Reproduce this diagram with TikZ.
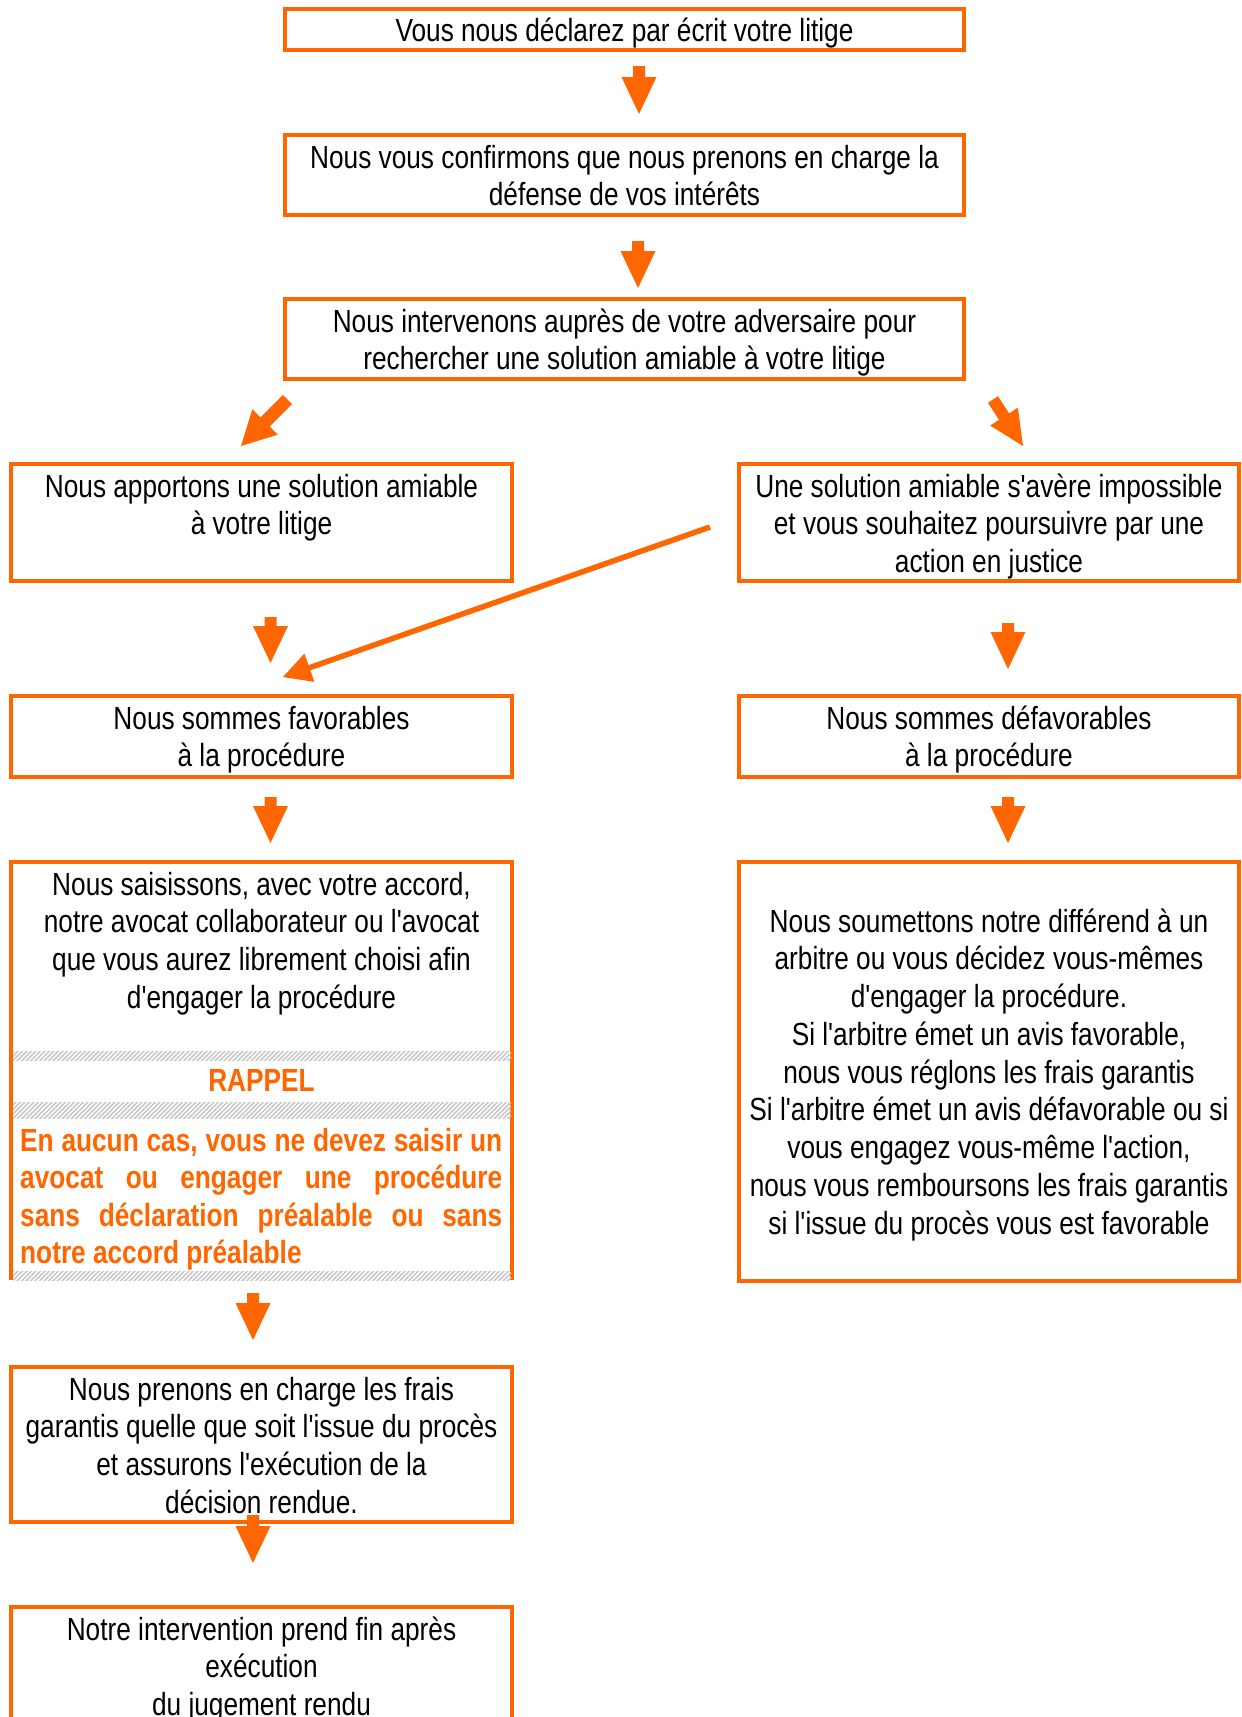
\documentclass[tikz,border=0pt]{standalone}
\usepackage{fontspec}
\newfontfamily\arn{Liberation Sans}[FakeStretch=0.82]
\usetikzlibrary{calc}
\definecolor{orangeC}{HTML}{FF6600}
\tikzset{
  box/.style={draw=orangeC, line width=3.5pt, inner sep=0pt, outer sep=0pt, rectangle},
  openbox/.style={inner sep=0pt, outer sep=0pt, rectangle},
  sides/.style={draw=orangeC, line width=3.5pt, line join=miter},
  txt/.style={inner sep=0pt, align=center, font=\arn\fontsize{32}{37.75}\selectfont, anchor=north},
  warn/.style={inner sep=0pt, align=left, text=orangeC, font=\arn\bfseries\fontsize{32}{37.5}\selectfont, anchor=north west},
  rappel/.style={inner sep=0pt, align=center, text=orangeC, font=\arn\bfseries\fontsize{32}{37.5}\selectfont, anchor=north},
  hatchline/.style={draw=gray!42, line width=1.5pt},
  arrowfill/.style={fill=orangeC},
}
\newcommand\st{\rule{0pt}{30pt}}
% #1 start, #2 tip, #3 shaft half width, #4 head half width, #5 head length
\newcommand\blockarrow[5]{%
  \coordinate (bahead) at ($(#2)!#5!(#1)$);
  \fill[arrowfill] ($(#1)!#3!90:(#2)$) -- ($(bahead)!#3!90:(#2)$) -- ($(bahead)!#4!90:(#2)$) -- (#2)
    -- ($(bahead)!#4!-90:(#2)$) -- ($(bahead)!#3!-90:(#2)$) -- ($(#1)!#3!-90:(#2)$) -- cycle;}
\newcommand\hatchstrip[2]{%
  \begin{scope}
    \clip (13,#1) rectangle (511,#2);
    \foreach \x in {0,4.5,...,540} \draw[hatchline] ({\x-30},{#2+30}) -- ({\x+30},{#2-30});
  \end{scope}}
\begin{document}
\begin{tikzpicture}[x=1pt,y=-1pt]
\useasboundingbox (0,0) rectangle (1242,1717);
\fill[white] (0,0) rectangle (1242,1717);

% boxes
\node[box, minimum width=679, minimum height=41] (b1) at (624.5,29.5) {};
\node[box, minimum width=679, minimum height=80] (b2) at (624.5,175) {};
\node[box, minimum width=679, minimum height=80] (b3) at (624.5,339) {};
\node[box, minimum width=501, minimum height=117] (b4l) at (261.5,522.5) {};
\node[box, minimum width=500, minimum height=117] (b4r) at (989,522.5) {};
\node[box, minimum width=501, minimum height=81] (b5l) at (261.5,736.5) {};
\node[box, minimum width=500, minimum height=81] (b5r) at (989,736.5) {};
\node[openbox, minimum width=501, minimum height=418] (b6l) at (261.5,1071) {};
\draw[sides] (b6l.south west) -- (b6l.north west) -- (b6l.north east) -- (b6l.south east);
\node[box, minimum width=500, minimum height=419] (b6r) at (989,1071.5) {};
\node[box, minimum width=501, minimum height=155] (b7) at (261.5,1444.5) {};
\node[openbox, minimum width=501, minimum height=113] (b8) at (261.5,1663.5) {};
\draw[sides] (b8.south west) -- (b8.north west) -- (b8.north east) -- (b8.south east);

% hatched strips of the reminder
\hatchstrip{1051}{1060}
\hatchstrip{1102}{1118}
\hatchstrip{1271}{1280}

% texts
\node[txt] (t1) at (624.5,11.5) {\st Vous nous déclarez par écrit votre litige};
\node[txt] (t2) at (624.5,138) {\st Nous vous confirmons que nous prenons en charge la\\défense de vos intérêts};
\node[txt] (t3) at (624.5,302) {\st Nous intervenons auprès de votre adversaire pour\\rechercher une solution amiable à votre litige};
\node[txt] (t4l) at (261.5,467) {\st Nous apportons une solution amiable\\à votre litige};
\node[txt] (t4r) at (989,467) {\st Une solution amiable s'avère impossible\\et vous souhaitez poursuivre par une\\action en justice};
\node[txt] (t5l) at (261.5,699) {\st Nous sommes favorables\\à la procédure};
\node[txt] (t5r) at (989,699) {\st Nous sommes défavorables\\à la procédure};
\node[txt] (t6l) at (261.5,865) {\st Nous saisissons, avec votre accord,\\notre avocat collaborateur ou l'avocat\\que vous aurez librement choisi afin\\d'engager la procédure};
\node[rappel] (rap) at (261.5,1061) {\st RAPPEL};
\node[warn] (wrn) at (20,1121) {\st\makebox[482pt][s]{En aucun cas, vous ne devez saisir un}\\\makebox[482pt][s]{avocat ou engager une procédure}\\\makebox[482pt][s]{sans déclaration préalable ou sans}\\notre accord préalable};
\node[txt] (t6r) at (989,902) {\st Nous soumettons notre différend à un\\arbitre ou vous décidez vous-mêmes\\d'engager la procédure.\\Si l'arbitre émet un avis favorable,\\nous vous réglons les frais garantis\\Si l'arbitre émet un avis défavorable ou si\\vous engagez vous-même l'action,\\nous vous remboursons les frais garantis\\si l'issue du procès vous est favorable};
\node[txt] (t7) at (261.5,1370) {\st Nous prenons en charge les frais\\garantis quelle que soit l'issue du procès\\et assurons l'exécution de la\\décision rendue.};
\node[txt] (t8) at (261.5,1610) {\st Notre intervention prend fin après\\exécution\\du jugement rendu};

% arrow end points
\coordinate (a1s) at (639,66);    \coordinate (a1t) at (639,114);
\coordinate (a2s) at (638,241);   \coordinate (a2t) at (638,288);
\coordinate (dls) at (287.5,399.5); \coordinate (dlt) at (241,446);
\coordinate (drs) at (993,399.5); \coordinate (drt) at (1023,446);
\coordinate (lgs) at (710,527);   \coordinate (lgt) at (283,677);
\coordinate (a3s) at (270.5,617); \coordinate (a3t) at (270.5,663);
\coordinate (a4s) at (1008,623);  \coordinate (a4t) at (1008,669);
\coordinate (a5s) at (270.5,797); \coordinate (a5t) at (270.5,843);
\coordinate (a6s) at (1008,797);  \coordinate (a6t) at (1008,843);
\coordinate (a7s) at (253,1293);  \coordinate (a7t) at (253,1340);
\coordinate (a8s) at (253,1515);  \coordinate (a8t) at (253,1563);

\blockarrow{a1s}{a1t}{6pt}{17.5pt}{37pt}
\blockarrow{a2s}{a2t}{6pt}{17.5pt}{37pt}
\blockarrow{dls}{dlt}{6.5pt}{18pt}{34pt}
\blockarrow{drs}{drt}{6pt}{16.5pt}{35pt}
\blockarrow{lgs}{lgt}{2.75pt}{15pt}{28pt}
\blockarrow{a3s}{a3t}{6pt}{17.5pt}{37pt}
\blockarrow{a4s}{a4t}{6pt}{17.5pt}{37pt}
\blockarrow{a5s}{a5t}{6pt}{17.5pt}{37pt}
\blockarrow{a6s}{a6t}{6pt}{17.5pt}{37pt}
\blockarrow{a7s}{a7t}{6pt}{17.5pt}{37pt}
\blockarrow{a8s}{a8t}{6pt}{17.5pt}{37pt}
\end{tikzpicture}
\end{document}
